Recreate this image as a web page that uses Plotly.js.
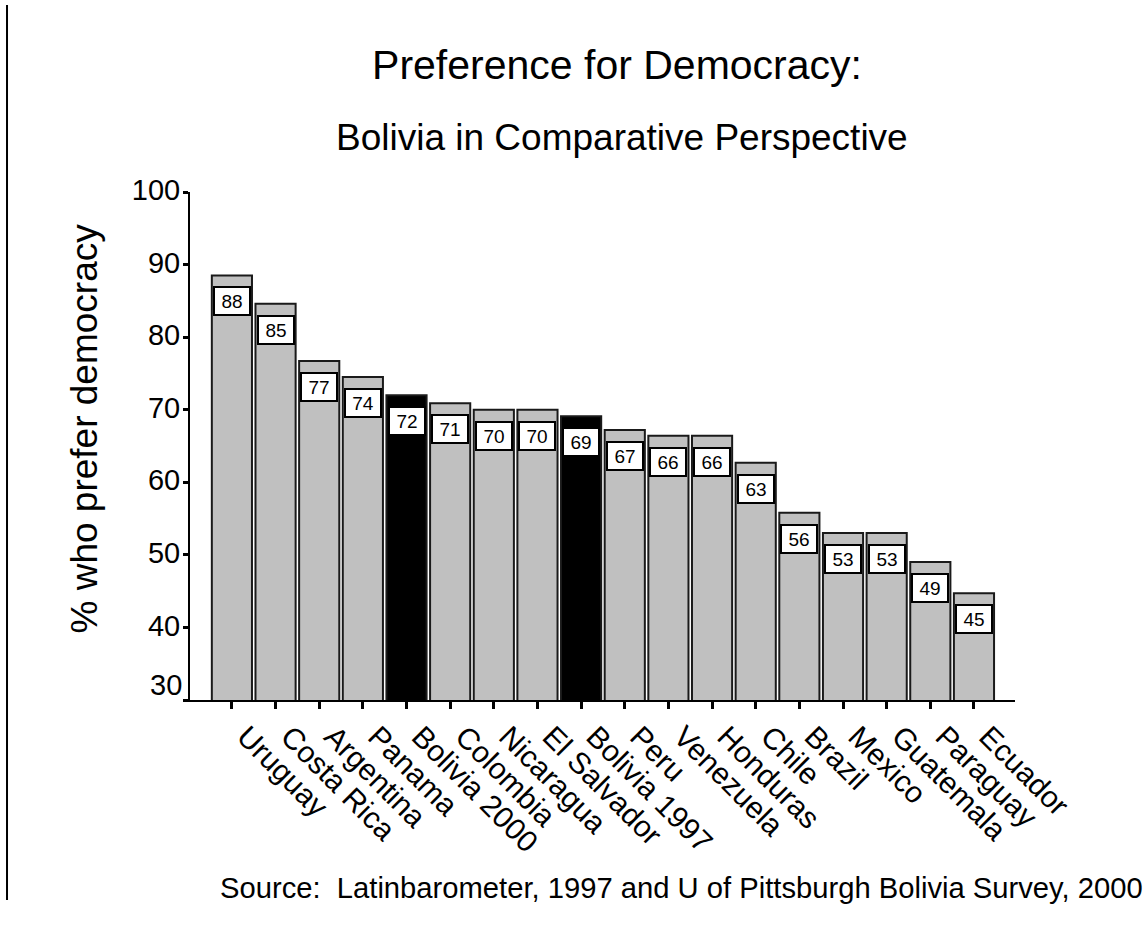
<!DOCTYPE html>
<html>
<head>
<meta charset="utf-8">
<script src="https://cdn.plot.ly/plotly-3.0.1.min.js"></script>
<style>html,body{margin:0;padding:0;background:#fff;}#chart{width:1146px;height:927px;}</style>
</head>
<body>
<div id="chart"></div>
<script>
// Data
var countries = ["Uruguay", "Costa Rica", "Argentina", "Panama", "Bolivia 2000", "Colombia",
  "Nicaragua", "El Salvador", "Bolivia 1997", "Peru", "Venezuela", "Honduras", "Chile",
  "Brazil", "Mexico", "Guatemala", "Paraguay", "Ecuador"];
var barHeights = [88.5, 84.6, 76.7, 74.5, 72.0, 70.9, 70.0, 70.0, 69.1, 67.2, 66.4, 66.4, 62.7,
  55.8, 53.0, 53.0, 49.0, 44.7];
var labelValues = [88, 85, 77, 74, 72, 71, 70, 70, 69, 67, 66, 66, 63, 56, 53, 53, 49, 45];
var highlighted = ["Bolivia 2000", "Bolivia 1997"];
var yTicks = [30, 40, 50, 60, 70, 80, 90, 100];
var yTickText = ["", "40", "50", "60", "70", "80", "90", "100"]; // "30" is drawn raised, as in the reference

var FONT = "Liberation Sans, Arial, Helvetica, sans-serif";

var colors = countries.map(function (c) { return highlighted.indexOf(c) >= 0 ? "#000000" : "#c0c0c0"; });

var trace = {
  type: "bar",
  x: countries,
  y: barHeights,
  marker: { color: colors, line: { color: "#1a1a1a", width: 2 } },
  hoverinfo: "x+y"
};

var annotations = countries.map(function (c, i) {
  return {
    xref: "x", yref: "y", x: c, y: barHeights[i],
    text: String(labelValues[i]),
    showarrow: false, xanchor: "center", yanchor: "top", yshift: -11,
    width: 34, height: 26, bgcolor: "#ffffff", bordercolor: "#000000",
    borderwidth: 2, borderpad: 0,
    font: { family: FONT, size: 19, color: "#000" }
  };
});

annotations.push({
  xref: "paper", yref: "y", x: 0, y: yTicks[0], xanchor: "right", yanchor: "middle",
  xshift: -6, yshift: 15, text: String(yTicks[0]), showarrow: false,
  font: { family: FONT, size: 29, color: "#000" }
});
annotations.push({
  xref: "paper", yref: "paper", x: 0.5242, y: 1.1063, xanchor: "center", yanchor: "middle",
  text: "Bolivia in Comparative Perspective", showarrow: false,
  font: { family: FONT, size: 37, color: "#000" }
});
annotations.push({
  xref: "paper", yref: "paper", x: -0.1273, y: 0.5344, xanchor: "center", yanchor: "middle",
  text: "% who prefer democracy", textangle: -90, showarrow: false,
  font: { family: FONT, size: 37, color: "#000" }
});
annotations.push({
  xref: "paper", yref: "paper", x: 0.0339, y: -0.370, xanchor: "left", yanchor: "middle",
  text: "Source:\u00a0\u00a0Latinbarometer, 1997 and U of Pittsburgh Bolivia Survey, 2000", showarrow: false,
  font: { family: FONT, size: 29.2, color: "#000" }
});

var layout = {
  width: 1146, height: 927,
  margin: { l: 190, r: 131, t: 192, b: 227, pad: 0 },
  paper_bgcolor: "#ffffff", plot_bgcolor: "#ffffff",
  showlegend: false,
  bargap: 0.08,
  font: { family: FONT, color: "#000" },
  title: {
    text: "Preference for Democracy:",
    x: 0.5384, xref: "container", xanchor: "center",
    y: 1 - 65 / 927, yref: "container", yanchor: "middle",
    font: { family: FONT, size: 41, color: "#000" }
  },
  xaxis: {
    type: "category", range: [-0.96, 17.94],
    showline: true, linecolor: "#000", linewidth: 2,
    ticks: "outside", ticklen: 7, tickwidth: 3, tickcolor: "#000",
    tickangle: 45, tickfont: { family: FONT, size: 30, color: "#000" },
    ticklabelshift: 14, ticklabelstandoff: -2,
    showgrid: false, zeroline: false, fixedrange: true
  },
  yaxis: {
    range: [30, 100], tickvals: yTicks, ticktext: yTickText,
    showline: true, linecolor: "#000", linewidth: 2,
    ticks: "outside", ticklen: 5, tickwidth: 3, tickcolor: "#000",
    tickfont: { family: FONT, size: 29, color: "#000" },
    ticklabelstandoff: -3, ticklabelshift: -2,
    showgrid: false, zeroline: false, fixedrange: true
  },
  shapes: [{
    type: "line", xref: "paper", yref: "paper",
    x0: -0.2218, x1: -0.2218, y0: -0.3937, y1: 1.368,
    line: { color: "#000", width: 2 }
  }],
  annotations: annotations
};

Plotly.newPlot("chart", [trace], layout, { displayModeBar: false, staticPlot: true });
</script>
</body>
</html>
